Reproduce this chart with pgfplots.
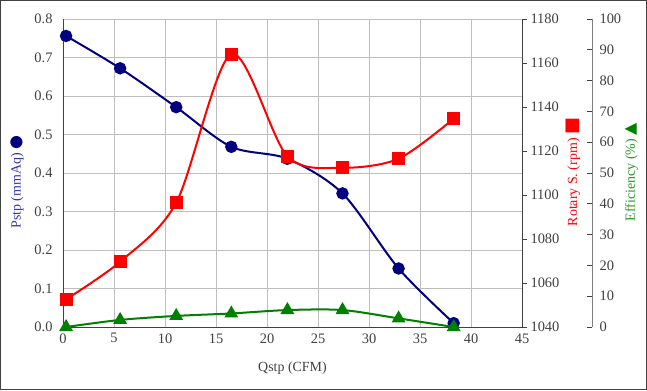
\documentclass[border=0pt]{standalone}
\usepackage{pgfplots}
\pgfplotsset{compat=1.18}
\usepackage{fontspec}
\setmainfont{Liberation Serif}
\newfontfamily\sym{DejaVu Sans}
\definecolor{navyb}{RGB}{0,0,128}
\definecolor{lblue}{RGB}{51,51,170}
\definecolor{redr}{RGB}{255,0,0}
\definecolor{greeng}{RGB}{0,128,0}
\definecolor{lgreen}{RGB}{40,150,40}
\definecolor{tickgray}{RGB}{64,64,64}
\definecolor{gridgray}{RGB}{190,190,190}
\begin{document}
\begin{tikzpicture}[x=1bp,y=1bp]
\path[use as bounding box] (0,0) rectangle (647,390);
\draw[tickgray, line width=1bp] (0.5,0.5) rectangle (646.5,389.5);
\pgfplotsset{
  base/.style={
    at={(63bp,63bp)}, anchor=south west, scale only axis, height=308bp,
    /pgf/number format/assume math mode=true,
    every tick label/.append style={font=\fontsize{14.5}{16}\selectfont, text=tickgray},
  }
}
% Pstp
\begin{axis}[base, width=459bp,
  xmin=0, xmax=45, ymin=0, ymax=0.8,
  xtick={0,5,10,15,20,25,30,35,40,45},
  ytick={0,0.1,0.2,0.3,0.4,0.5,0.6,0.7,0.8},
  yticklabel style={/pgf/number format/fixed, /pgf/number format/fixed zerofill, /pgf/number format/precision=1, xshift=-7bp},
  grid=major, grid style={gridgray, line width=0.9bp},
  axis x line*=bottom, axis y line*=left,
  axis line style={tickgray, line width=1bp, -},
  major tick length=0pt,
  xticklabel style={yshift=-3bp},
  xlabel={Qstp (CFM)},
  every axis x label/.style={at={(axis description cs:0.5,-0.133)}, anchor=center, font=\fontsize{14}{16}\selectfont, text=tickgray},
  ylabel={Pstp (mmAq) {\sym\fontsize{16}{16}\selectfont\textcolor{navyb}{●}}},
  every axis y label/.style={at={(axis description cs:-0.100,0.47)}, rotate=90, anchor=center, font=\fontsize{14}{16}\selectfont, text=lblue},
]
\addplot[navyb, line width=2bp, smooth, tension=0.5, mark=*, mark size=5.2bp, mark options={fill=navyb, draw=navyb}]
coordinates {(0.3,0.756) (5.6,0.672) (11.1,0.571) (16.5,0.468) (22.0,0.437) (27.4,0.347) (32.9,0.152) (38.3,0.010)};
\end{axis}
% Rotary speed
\begin{axis}[base, width=459bp,
  xmin=0, xmax=45, ymin=1040, ymax=1180,
  ytick={1040,1060,1080,1100,1120,1140,1160,1180},
  hide x axis, axis y line*=right,
  axis line style={tickgray, line width=1bp, -},
  tick style={tickgray, line width=0.8bp},
  tick align=outside, major tick length=5bp,
  yticklabel style={/pgf/number format/1000 sep={}},
  ylabel={Rotary S. (rpm) {\sym\fontsize{18}{18}\selectfont ■}},
  every axis y label/.style={at={(axis description cs:1.111,0.503)}, rotate=90, anchor=center, font=\fontsize{14}{16}\selectfont, text=redr},
]
\addplot[redr, line width=2bp, smooth, tension=0.5, mark=square*, mark size=5.5bp, mark options={fill=redr, draw=redr}]
coordinates {(0.3,1052.6) (5.6,1069.7) (11.1,1096.5) (16.5,1164.0) (22.0,1117.6) (27.4,1112.4) (32.9,1116.5) (38.3,1134.7)};
\end{axis}
% Efficiency
\begin{axis}[base, width=529bp,
  xmin=0, xmax=51.862, ymin=0, ymax=100,
  ytick={0,10,20,30,40,50,60,70,80,90,100},
  hide x axis, axis y line*=right,
  axis line style={gray, line width=1bp, -},
  tick style={tickgray, line width=0.8bp},
  tick align=inside, major tick length=5bp,
  yticklabel style={xshift=4bp},
  ylabel={Efficiency (\%) {\sym\fontsize{16}{16}\selectfont\textcolor{greeng}{▲}}},
  every axis y label/.style={at={(axis description cs:1.074,0.503)}, rotate=90, anchor=center, font=\fontsize{14}{16}\selectfont, text=lgreen},
]
\addplot[greeng, line width=2bp, smooth, tension=0.5, mark=triangle*, mark size=6bp, mark options={fill=greeng, draw=greeng}]
coordinates {(0.3,0.0) (5.6,2.3) (11.1,3.6) (16.5,4.4) (22.0,5.5) (27.4,5.5) (32.9,2.8) (38.3,0.0)};
\end{axis}
\end{tikzpicture}
\end{document}
